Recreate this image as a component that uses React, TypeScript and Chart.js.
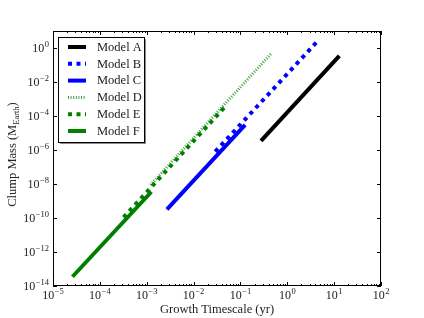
import React, { useEffect, useRef } from "react";
import { Chart, registerables } from "chart.js";

Chart.register(...registerables);

// Data: growth timescale (yr) vs clump mass (M_Earth)
const modelNames = ["Model A", "Model B", "Model C", "Model D", "Model E", "Model F"];
const modelATime = [0.275, 12.9];
const modelAMass = [3.4e-6, 0.34];
const modelBTime = [0.029, 4.8];
const modelBMass = [8e-7, 3.2];
const modelCTime = [2.7e-3, 0.126];
const modelCMass = [3.2e-10, 3e-5];
const modelDTime = [1.2e-3, 0.46];
const modelDMass = [8.7e-9, 0.49];
const modelETime = [3.2e-4, 0.047];
const modelEMass = [1.1e-10, 3.5e-4];
const modelFTime = [2.6e-5, 1.26e-3];
const modelFMass = [3.5e-14, 3.5e-9];

const xTickExps = [-5, -4, -3, -2, -1, 0, 1, 2];
const yTickExps = [-14, -12, -10, -8, -6, -4, -2, 0];

const SERIF = '"Liberation Serif", "DejaVu Serif", serif';

type Style = { color: string; width: number; dash: number[] };
const styles: Style[] = [
  { color: "#000000", width: 4, dash: [] },
  { color: "#0000ff", width: 4, dash: [4, 4.5] },
  { color: "#0000ff", width: 4, dash: [] },
  { color: "rgba(0,128,0,0.75)", width: 3, dash: [1, 1.6] },
  { color: "#008000", width: 4, dash: [4, 4.5] },
  { color: "#008000", width: 4, dash: [] },
];

const series = [
  [modelATime, modelAMass],
  [modelBTime, modelBMass],
  [modelCTime, modelCMass],
  [modelDTime, modelDMass],
  [modelETime, modelEMass],
  [modelFTime, modelFMass],
];

function drawPow(
  ctx: CanvasRenderingContext2D,
  exp: number,
  x: number,
  y: number,
  align: "center" | "right"
) {
  const base = "10";
  const sup = exp < 0 ? "\u2212" + Math.abs(exp) : String(exp);
  ctx.font = `12px ${SERIF}`;
  const bw = ctx.measureText(base).width;
  ctx.font = `8.5px ${SERIF}`;
  const sw = ctx.measureText(sup).width;
  const total = bw + sw + 0.5;
  const startX = align === "center" ? x - total / 2 : x - total;
  ctx.textAlign = "left";
  ctx.textBaseline = "alphabetic";
  ctx.font = `12px ${SERIF}`;
  ctx.fillText(base, startX, y);
  ctx.font = `8.5px ${SERIF}`;
  ctx.fillText(sup, startX + bw + 0.5, y - 5.5);
}

const axesPlugin = {
  id: "mplAxes",
  afterDraw(chart: any) {
    const ctx: CanvasRenderingContext2D = chart.ctx;
    const a = chart.chartArea;
    const xs = chart.scales.x;
    const ys = chart.scales.y;
    ctx.save();
    ctx.strokeStyle = "#000";
    ctx.lineWidth = 1;
    ctx.setLineDash([]);
    ctx.strokeRect(a.left + 0.5, a.top + 0.5, a.right - a.left - 1, a.bottom - a.top - 1);

    // x ticks
    ctx.beginPath();
    for (let e = -5; e <= 2; e++) {
      const px = Math.round(xs.getPixelForValue(Math.pow(10, e))) + 0.5;
      ctx.moveTo(px, a.bottom);
      ctx.lineTo(px, a.bottom - 4);
      ctx.moveTo(px, a.top);
      ctx.lineTo(px, a.top + 4);
      if (e < 2) {
        for (let k = 2; k <= 9; k++) {
          const mx = Math.round(xs.getPixelForValue(k * Math.pow(10, e))) + 0.5;
          ctx.moveTo(mx, a.bottom);
          ctx.lineTo(mx, a.bottom - 2);
          ctx.moveTo(mx, a.top);
          ctx.lineTo(mx, a.top + 2);
        }
      }
    }
    // y ticks
    for (const e of yTickExps) {
      const py = Math.round(ys.getPixelForValue(Math.pow(10, e))) + 0.5;
      ctx.moveTo(a.left, py);
      ctx.lineTo(a.left + 4, py);
      ctx.moveTo(a.right, py);
      ctx.lineTo(a.right - 4, py);
    }
    ctx.stroke();

    ctx.fillStyle = "#222";
    for (const e of xTickExps) {
      const px = xs.getPixelForValue(Math.pow(10, e));
      drawPow(ctx, e, px, a.bottom + 13, "center");
    }
    for (const e of yTickExps) {
      const py = ys.getPixelForValue(Math.pow(10, e));
      drawPow(ctx, e, a.left - 4, py + 4, "right");
    }

    // x title
    ctx.font = `12.5px ${SERIF}`;
    ctx.textAlign = "center";
    ctx.textBaseline = "alphabetic";
    ctx.fillText("Growth Timescale (yr)", (a.left + a.right) / 2, a.bottom + 27);

    // y title with subscript
    ctx.save();
    ctx.translate(16, (a.top + a.bottom) / 2 - 4);
    ctx.rotate(-Math.PI / 2);
    const p1 = "Clump Mass (M";
    const sub = "Earth";
    const p2 = ")";
    ctx.font = `12.5px ${SERIF}`;
    const w1 = ctx.measureText(p1).width;
    const w3 = ctx.measureText(p2).width;
    ctx.font = `8.5px ${SERIF}`;
    const w2 = ctx.measureText(sub).width;
    const tot = w1 + w2 + w3;
    let sx = -tot / 2;
    ctx.textAlign = "left";
    ctx.font = `12.5px ${SERIF}`;
    ctx.fillText(p1, sx, 0);
    sx += w1;
    ctx.font = `8.5px ${SERIF}`;
    ctx.fillText(sub, sx, 2.5);
    sx += w2;
    ctx.font = `12.5px ${SERIF}`;
    ctx.fillText(p2, sx, 0);
    ctx.restore();

    // legend
    const lx = 58, ly = 37, lw = 86, lh = 105;
    ctx.fillStyle = "rgba(0,0,0,0.45)";
    ctx.fillRect(lx + 2, ly + 2, lw, lh);
    ctx.fillStyle = "#fff";
    ctx.fillRect(lx, ly, lw, lh);
    ctx.strokeStyle = "#000";
    ctx.lineWidth = 1;
    ctx.strokeRect(lx + 0.5, ly + 0.5, lw, lh);
    for (let i = 0; i < modelNames.length; i++) {
      const rowY = ly + 10 + i * 16.8;
      const st = styles[i];
      ctx.beginPath();
      ctx.strokeStyle = st.color;
      ctx.lineWidth = st.width;
      ctx.setLineDash(st.dash);
      ctx.lineCap = "butt";
      ctx.moveTo(lx + 10, rowY);
      ctx.lineTo(lx + 28, rowY);
      ctx.stroke();
      ctx.setLineDash([]);
      ctx.fillStyle = "#222";
      ctx.font = `12.5px ${SERIF}`;
      ctx.textAlign = "left";
      ctx.textBaseline = "middle";
      ctx.fillText(modelNames[i], lx + 39, rowY + 0.5);
    }
    ctx.restore();
  },
};

export default function App() {
  const ref = useRef<HTMLCanvasElement | null>(null);
  useEffect(() => {
    document.body.style.margin = "0";
    const canvas = ref.current;
    if (!canvas) return;
    const datasets = series.map((s, i) => ({
      label: modelNames[i],
      data: s[0].map((t, j) => ({ x: t, y: s[1][j] })),
      borderColor: styles[i].color,
      borderWidth: styles[i].width,
      borderDash: styles[i].dash,
      borderCapStyle: "butt" as const,
      pointRadius: 0,
      tension: 0,
      fill: false,
      order: modelNames.length - i,
    }));
    const chart = new Chart(canvas, {
      type: "line",
      data: { datasets },
      options: {
        responsive: false,
        animation: false,
        layout: { padding: { left: 53, right: 43, top: 31, bottom: 32 } },
        plugins: { legend: { display: false }, tooltip: { enabled: false } },
        scales: {
          x: { type: "logarithmic", min: 1e-5, max: 1e2, display: false },
          y: { type: "logarithmic", min: 1e-14, max: 1e1, display: false },
        },
      },
      plugins: [axesPlugin],
    });
    return () => chart.destroy();
  }, []);
  return <canvas ref={ref} width={424} height={318} style={{ display: "block" }} />;
}
